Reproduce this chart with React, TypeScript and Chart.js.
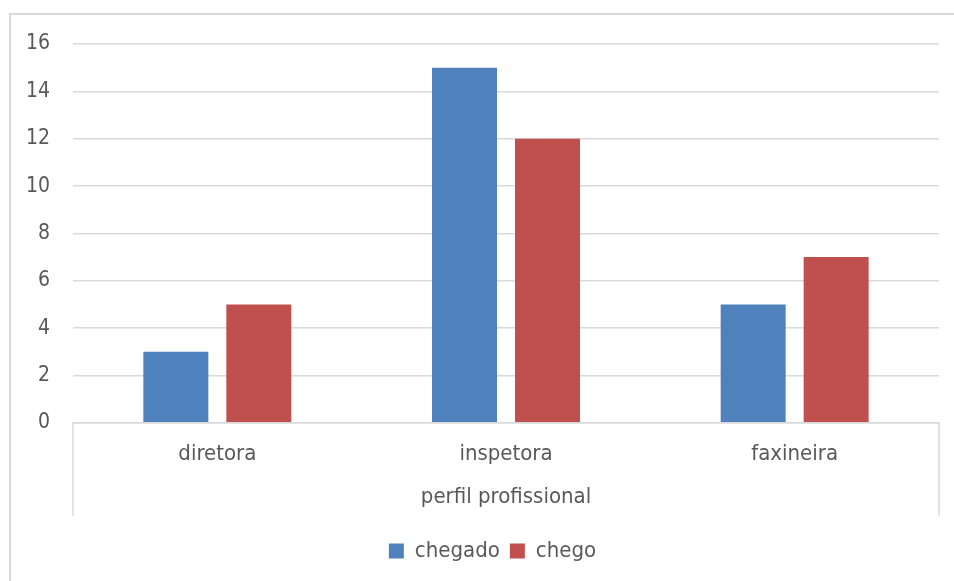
import React, { useEffect, useRef } from "react";
import { Chart, registerables } from "chart.js";

Chart.register(...registerables);

const categories = ["diretora", "inspetora", "faxineira"];
const chegado = [3, 15, 5];
const chego = [5, 12, 7];
const yTicks = [0, 2, 4, 6, 8, 10, 12, 14, 16];
const axisTitle = "perfil profissional";
const seriesNames = ["chegado", "chego"];

const FONT = "'DejaVu Sans Condensed', 'DejaVu Sans', sans-serif";
const TEXT = "#595959";
const GRID = "#d9d9d9";
const LEGEND_SHIFT = 23;

const framePlugin = {
  id: "frame",
  afterLayout(chart: any) {
    const lg = chart.legend;
    if (lg) {
      lg.left += LEGEND_SHIFT;
      lg.right += LEGEND_SHIFT;
    }
  },
  beforeDraw(chart: any) {
    const ctx = chart.ctx;
    ctx.save();
    ctx.strokeStyle = GRID;
    ctx.lineWidth = 2;
    ctx.beginPath();
    ctx.moveTo(10, chart.height);
    ctx.lineTo(10, 14);
    ctx.lineTo(chart.width, 14);
    ctx.stroke();
    ctx.restore();
  },
  afterDraw(chart: any) {
    const ctx = chart.ctx;
    const xs = chart.scales.x;
    const area = chart.chartArea;
    ctx.save();
    ctx.strokeStyle = GRID;
    ctx.lineWidth = 1.5;
    ctx.beginPath();
    ctx.moveTo(area.left, area.bottom);
    ctx.lineTo(area.left, xs.bottom);
    ctx.moveTo(area.right, area.bottom);
    ctx.lineTo(area.right, xs.bottom);
    ctx.stroke();
    ctx.restore();
  },
};

export default function App() {
  const ref = useRef<HTMLCanvasElement>(null);
  useEffect(() => {
    document.body.style.margin = "0";
    const chart = new Chart(ref.current!, {
      type: "bar",
      data: {
        labels: categories,
        datasets: [
          { label: seriesNames[0], data: chegado, backgroundColor: "#4F81BD" },
          { label: seriesNames[1], data: chego, backgroundColor: "#C0504D" },
        ],
      },
      plugins: [framePlugin],
      options: {
        animation: false,
        responsive: false,
        maintainAspectRatio: false,
        categoryPercentage: 0.575,
        barPercentage: 0.783,
        layout: { padding: { top: 44, left: 0, right: 15, bottom: 9 } },
        plugins: {
          tooltip: { enabled: false },
          legend: {
            position: "bottom",
            title: {
              display: true,
              text: "",
              font: { family: FONT, size: 1 },
              padding: { top: 13, bottom: 0 },
            },
            labels: {
              boxWidth: 15,
              boxHeight: 15,
              color: TEXT,
              font: { family: FONT, size: 22 },
              padding: 10,
            },
          },
        },
        scales: {
          y: {
            min: 0,
            max: 16,
            afterBuildTicks: (s: any) => {
              s.ticks = yTicks.map((v) => ({ value: v }));
            },
            afterFit: (s: any) => {
              s.width = 73;
            },
            border: { display: false },
            grid: { color: GRID, lineWidth: 1.5, drawTicks: false },
            ticks: {
              color: TEXT,
              padding: 23,
              font: { family: FONT, size: 21 },
            },
          },
          x: {
            afterFit: (s: any) => {
              s.height = 93;
            },
            border: { display: true, color: GRID, width: 1.5 },
            grid: { display: false, drawTicks: false },
            ticks: {
              color: TEXT,
              padding: 18,
              font: { family: FONT, size: 22 },
            },
            title: {
              display: true,
              text: axisTitle,
              color: TEXT,
              font: { family: FONT, size: 22 },
              padding: { top: 0, bottom: 5 },
            },
          },
        },
      },
    });
    return () => chart.destroy();
  }, []);
  return <canvas ref={ref} width={954} height={581} />;
}
